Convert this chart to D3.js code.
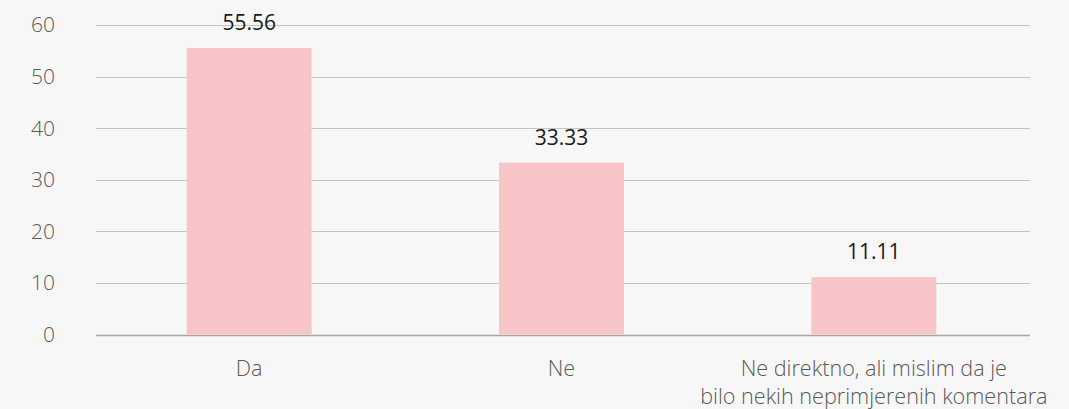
<!DOCTYPE html>
<meta charset="utf-8">
<style>
body { margin: 0; background: #f7f7f7; }
text { font-family: "Open Sans", sans-serif; }
</style>
<svg width="1069" height="409"></svg>
<script src="https://cdn.jsdelivr.net/npm/d3@7"></script>
<script>

var categories = ["Da", "Ne", "Ne direktno, ali mislim da je|bilo nekih neprimjerenih komentara"];
var values = [55.56, 33.33, 11.11];
var yTicks = [0, 10, 20, 30, 40, 50, 60];

var svg = d3.select("svg"),
    width = +svg.attr("width"),
    height = +svg.attr("height");

svg.append("rect").attr("width", width).attr("height", height).attr("fill", "#f7f7f7");

var x = d3.scaleBand()
    .domain(categories)
    .range([93, 1030])
    .paddingInner(0.6)
    .paddingOuter(0.3);

var y = d3.scaleLinear()
    .domain([0, 60])
    .range([334.5, 25]);

// gridlines
svg.selectAll(".grid")
    .data(yTicks)
    .enter().append("line")
    .attr("x1", 96)
    .attr("x2", 1030)
    .attr("y1", d => Math.round(y(d)) + 0.5)
    .attr("y2", d => Math.round(y(d)) + 0.5)
    .attr("stroke", d => d == 0 ? "#a6a6a6" : "#c4c4c4")
    .attr("stroke-width", d => d == 0 ? 1.5 : 1);

// y labels
svg.selectAll(".ylab")
    .data(yTicks)
    .enter().append("text")
    .attr("x", 55)
    .attr("y", d => y(d))
    .attr("dy", "0.35em")
    .attr("text-anchor", "end")
    .attr("font-size", "21px")
    .attr("font-weight", 300)
    .attr("fill", "#595959")
    .text(d => d);

// bars
svg.selectAll(".bar")
    .data(values)
    .enter().append("rect")
    .attr("x", (d, i) => x(categories[i]))
    .attr("width", x.bandwidth())
    .attr("y", d => y(d))
    .attr("height", d => y(0) - y(d))
    .attr("fill", "#f7c5c7");

// value labels
svg.selectAll(".val")
    .data(values)
    .enter().append("text")
    .attr("x", (d, i) => x(categories[i]) + x.bandwidth() / 2)
    .attr("y", d => y(d) - 18)
    .attr("text-anchor", "middle")
    .attr("font-size", "21px")
    .attr("fill", "#1a1a1a")
    .text(d => d.toFixed(2));

// category labels
categories.forEach(function(c) {
    var t = svg.append("text")
        .attr("x", x(c) + x.bandwidth() / 2)
        .attr("y", 376)
        .attr("text-anchor", "middle")
        .attr("font-size", "21.6px")
        .attr("font-weight", 300)
        .attr("fill", "#595959");
    c.split("|").forEach(function(line, j) {
        t.append("tspan")
            .attr("x", x(c) + x.bandwidth() / 2)
            .attr("dy", j == 0 ? 0 : 28)
            .text(line);
    });
});

</script>
